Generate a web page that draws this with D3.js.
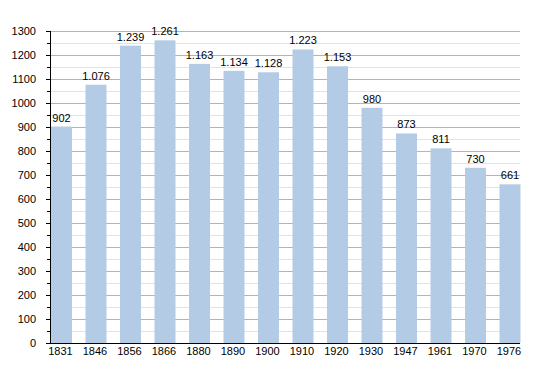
<!DOCTYPE html>
<html><head><meta charset="utf-8">
<script src="https://cdn.jsdelivr.net/npm/d3@7"></script>
<style>body{margin:0;background:#fff}svg{display:block}text{font-family:"Liberation Sans",Arial,sans-serif;font-size:11px;fill:#000}</style>
</head><body>
<svg id="c" width="550" height="373"></svg>
<script>
const years = ["1831","1846","1856","1866","1880","1890","1900","1910","1920","1930","1947","1961","1970","1976"];
const population = [902,1076,1239,1261,1163,1134,1128,1223,1153,980,873,811,730,661];
const yMajorTicks = [0,100,200,300,400,500,600,700,800,900,1000,1100,1200,1300];
const yMinorTicks = [50,150,250,350,450,550,650,750,850,950,1050,1150,1250];

(function(){
const svg = d3.select("#c");
const mLeft = 50, mRight = 520, mTop = 31, mBottom = 343;
const y = d3.scaleLinear().domain([0,1300]).range([mBottom, mTop]);
const x = d3.scaleBand().domain(years).range([51, 51 + 34.5*years.length]).padding(0);
const bw = 21;
const fmt = v => d3.format(",")(v).replace(/,/g, ".");

svg.append("g").selectAll("line").data(yMinorTicks).join("line")
  .attr("x1", mLeft).attr("x2", mRight).attr("y1", d=>y(d)+0.5).attr("y2", d=>y(d)+0.5)
  .attr("stroke", "#e2e2e2");
svg.append("g").selectAll("line").data(yMajorTicks.filter(d=>d>0)).join("line")
  .attr("x1", mLeft).attr("x2", mRight).attr("y1", d=>y(d)+0.5).attr("y2", d=>y(d)+0.5)
  .attr("stroke", "#b4b4b4");

svg.append("g").selectAll("rect").data(population).join("rect")
  .attr("x", (d,i)=>x(years[i])).attr("width", bw)
  .attr("y", d=>y(d)).attr("height", d=>mBottom - y(d))
  .attr("fill", "#b3cbe4");

svg.append("g").selectAll("text").data(population).join("text")
  .attr("x", (d,i)=>x(years[i]) + bw/2).attr("y", d=>y(d) - 5)
  .attr("text-anchor", "middle").text(d=>fmt(d));

const ya = svg.append("g");
ya.append("line").attr("x1", mLeft+0.5).attr("x2", mLeft+0.5).attr("y1", mTop).attr("y2", mBottom).attr("stroke", "#000");
ya.selectAll("line.mj").data(yMajorTicks).join("line").attr("class","mj")
  .attr("x1", mLeft-4).attr("x2", mLeft).attr("y1", d=>y(d)+0.5).attr("y2", d=>y(d)+0.5).attr("stroke","#000");
ya.selectAll("line.mn").data(yMinorTicks).join("line").attr("class","mn")
  .attr("x1", mLeft-3).attr("x2", mLeft).attr("y1", d=>y(d)+0.5).attr("y2", d=>y(d)+0.5).attr("stroke","#000");
ya.selectAll("text").data(yMajorTicks).join("text")
  .attr("x", 36).attr("y", d=>y(d)+4).attr("text-anchor","end").text(d=>d);

svg.append("line").attr("x1", mLeft-4).attr("x2", mRight).attr("y1", mBottom+0.5).attr("y2", mBottom+0.5).attr("stroke","#000");
svg.append("g").selectAll("text").data(years).join("text")
  .attr("x", d=>x(d)+bw/2 - 1).attr("y", 355).attr("text-anchor","middle").text(d=>d);
})();
</script>
</body></html>
